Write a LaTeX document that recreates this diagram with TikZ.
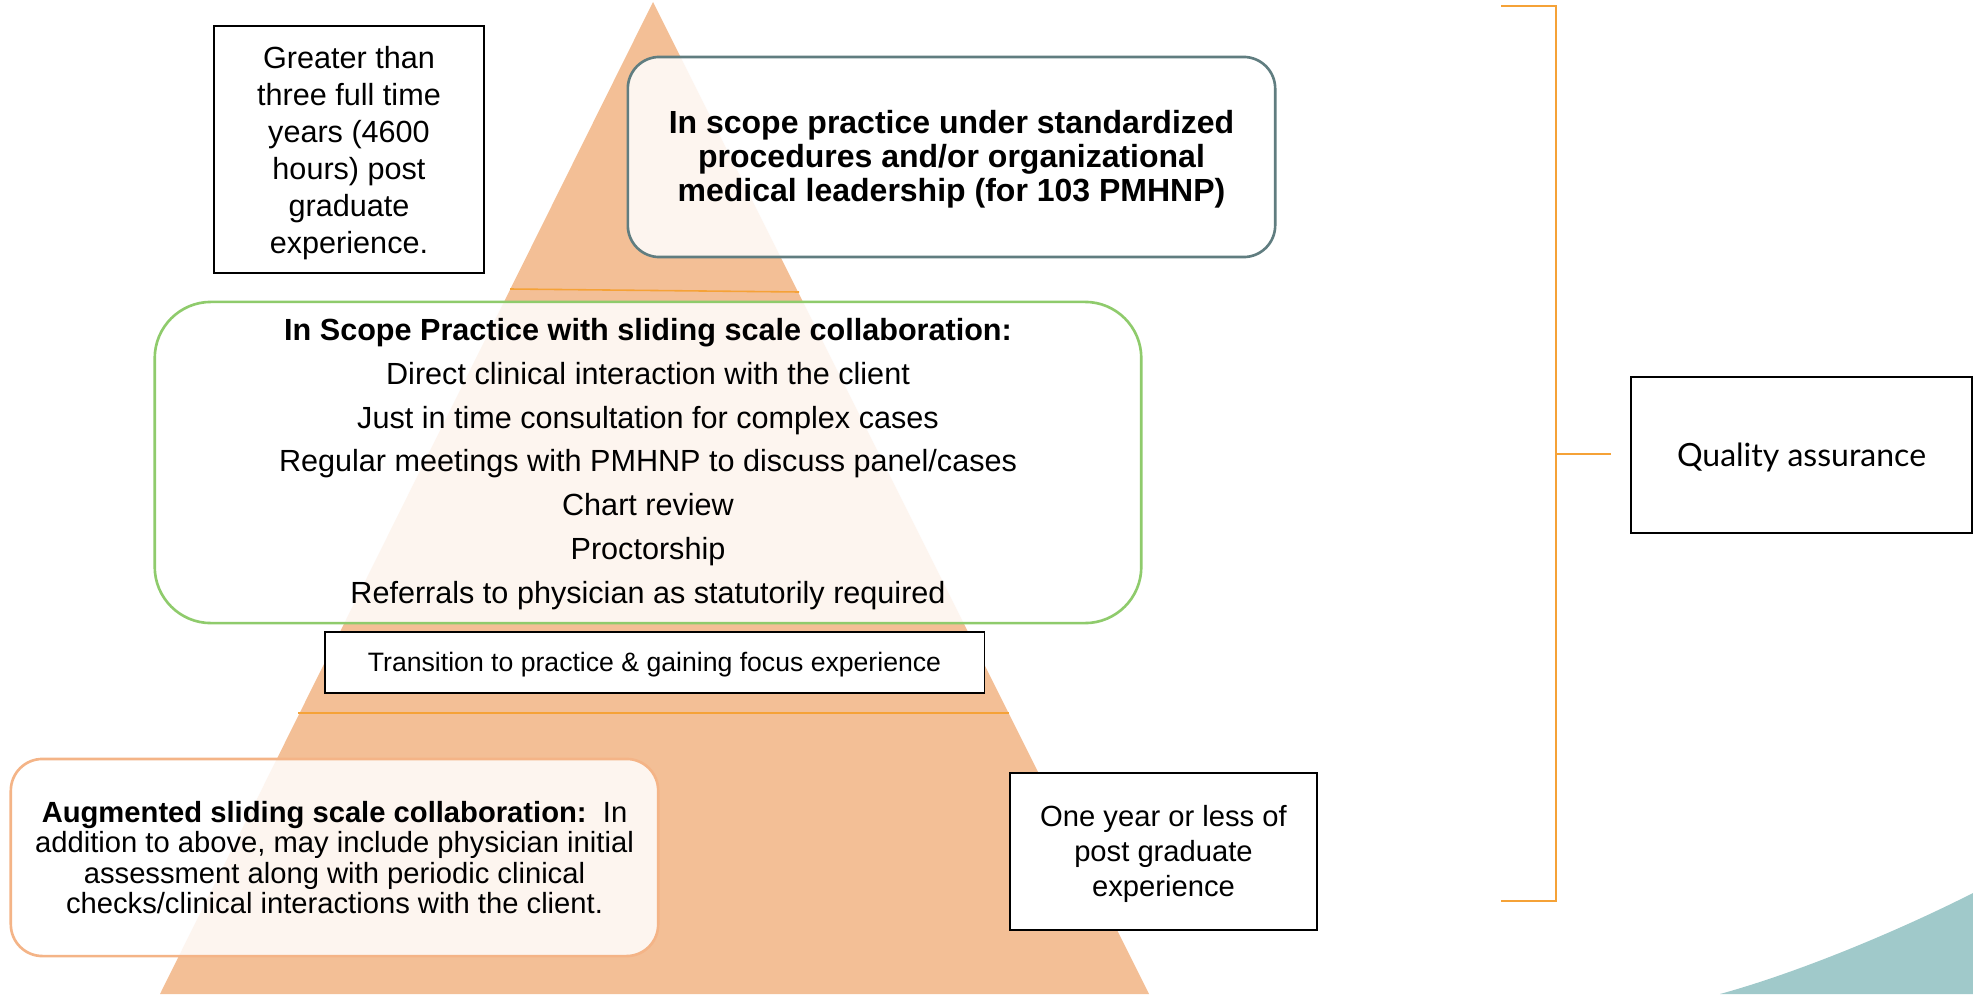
\documentclass[tikz,border=0pt]{standalone}
\usepackage{fontspec}
\setmainfont{Liberation Sans}
\newfontfamily\qafont{Lato}
\definecolor{peach}{RGB}{243,191,150}
\definecolor{lineorange}{RGB}{245,162,55}
\definecolor{slateb}{RGB}{96,125,128}
\definecolor{greenb}{RGB}{143,203,108}
\definecolor{augb}{RGB}{244,180,135}
\definecolor{tealc}{RGB}{160,201,202}
\tikzset{
  plainbox/.style={draw=black, line width=0.4pt, fill=white, inner sep=0pt},
  softbox/.style={fill=white, fill opacity=0.85, line width=0.75pt, rounded corners=9pt, inner sep=0pt},
  boxtext/.style={inner sep=0pt, align=center},
  levelline/.style={draw=lineorange, line width=0.45pt},
  bracketline/.style={draw=lineorange, line width=0.5pt}
}
\begin{document}
\begin{tikzpicture}[x=0.01cm,y=-0.01cm]
\useasboundingbox (0,0) rectangle (1973,994);
% pyramid
\fill[peach] (653,2) -- (1149,994) -- (160,994) -- cycle;
\coordinate (l1a) at (510,289);
\coordinate (l1b) at (799,292);
\coordinate (l2a) at (298,713);
\coordinate (l2b) at (1009,713);
\draw[levelline] (l1a) -- (l1b);
\draw[levelline] (l2a) -- (l2b);
% teal swoosh
\fill[tealc] (1720,994) .. controls (1800,972) and (1900,930) .. (1973,893) -- (1973,994) -- cycle;
% boxes
\node[plainbox, minimum width=2.70cm, minimum height=2.47cm] (greater) at (349,149.5) {};
\node[boxtext, font=\fontsize{8.7}{10.5}\selectfont] (greatertxt) at ([yshift=-1.0pt]greater.center)
  {Greater than\\three full time\\years (4600\\hours) post\\graduate\\experience.};
\node[softbox, draw=slateb, minimum width=6.47cm, minimum height=2.00cm] (top) at (951.5,157) {};
\node[boxtext, font=\fontsize{9.1}{9.6}\selectfont\bfseries] (toptxt) at ([yshift=-0.7pt]top.center)
  {In scope practice under standardized\\procedures and/or organizational\\medical leadership (for 103 PMHNP)};
\node[softbox, draw=greenb, rounded corners=16pt, minimum width=9.86cm, minimum height=3.21cm] (mid) at (648,462.5) {};
\node[boxtext, font=\fontsize{8.7}{12.45}\selectfont] (midtxt) at ([yshift=-0.4pt]mid.center)
  {\textbf{In Scope Practice with sliding scale collaboration:}\\Direct clinical interaction with the client\\Just in time consultation for complex cases\\Regular meetings with PMHNP to discuss panel/cases\\Chart review\\Proctorship\\Referrals to physician as statutorily required};
\node[plainbox, minimum width=6.59cm, minimum height=0.61cm] (trans) at (654.5,662.5) {};
\node[boxtext, font=\fontsize{7.57}{9}\selectfont] (transtxt) at ([yshift=-0.7pt]trans.center)
  {Transition to practice \& gaining focus experience};
\node[softbox, draw=augb, minimum width=6.47cm, minimum height=1.97cm] (aug) at (334.5,857.5) {};
\node[boxtext, font=\fontsize{8.3}{8.6}\selectfont] (augtxt) at (aug.center)
  {\textbf{Augmented sliding scale collaboration:}\ \ In\\addition to above, may include physician initial\\assessment along with periodic clinical\\checks/clinical interactions with the client.};
\node[plainbox, minimum width=3.07cm, minimum height=1.57cm] (one) at (1163.5,851.5) {};
\node[boxtext, font=\fontsize{8.3}{10}\selectfont] (onetxt) at ([yshift=-0.7pt]one.center)
  {One year or less of\\post graduate\\experience};
\node[plainbox, minimum width=3.41cm, minimum height=1.56cm] (qa) at (1801.5,455) {};
\node[boxtext, font=\qafont\fontsize{9.1}{10}\selectfont] (qatxt) at ([yshift=-0.7pt]qa.center)
  {Quality assurance};
% bracket
\coordinate (b1) at (1501,6);
\coordinate (b2) at (1556,6);
\coordinate (b3) at (1556,901);
\coordinate (b4) at (1501,901);
\coordinate (bm) at (1556,454);
\coordinate (qt) at (1611,454);
\draw[bracketline] (b1) -- (b2) -- (b3) -- (b4);
\draw[bracketline] (bm) -- (qt);
\end{tikzpicture}
\end{document}
